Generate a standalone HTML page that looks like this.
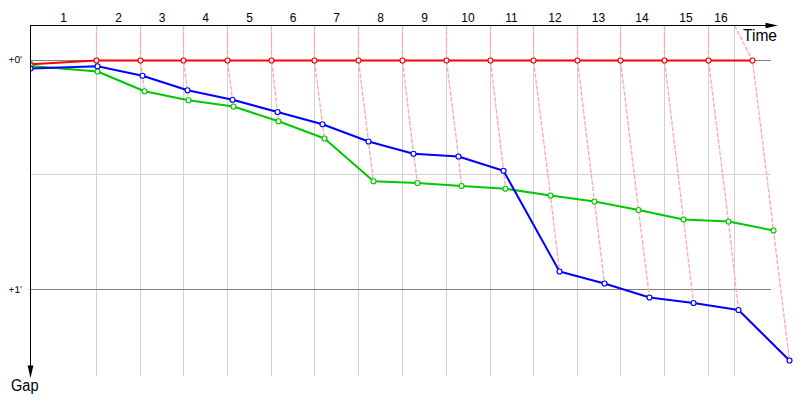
<!DOCTYPE html>
<html><head><meta charset="utf-8"><title>Gap chart</title>
<style>
html,body{margin:0;padding:0;background:#fff;}
body{width:800px;height:400px;overflow:hidden;font-family:"Liberation Sans",sans-serif;}
svg{display:block;}
text{font-family:"Liberation Sans",sans-serif;fill:#000;}
</style></head><body>
<svg width="800" height="400" viewBox="0 0 800 400">
<rect width="800" height="400" fill="#fff"/>

<g stroke="#d0d0d0" stroke-width="1" shape-rendering="crispEdges">
<line x1="96.5" y1="26" x2="96.5" y2="376"/>
<line x1="140.5" y1="26" x2="140.5" y2="376"/>
<line x1="183.5" y1="26" x2="183.5" y2="376"/>
<line x1="227.5" y1="26" x2="227.5" y2="376"/>
<line x1="271.5" y1="26" x2="271.5" y2="376"/>
<line x1="314.5" y1="26" x2="314.5" y2="376"/>
<line x1="358.5" y1="26" x2="358.5" y2="376"/>
<line x1="402.5" y1="26" x2="402.5" y2="376"/>
<line x1="446.5" y1="26" x2="446.5" y2="376"/>
<line x1="490.5" y1="26" x2="490.5" y2="376"/>
<line x1="533.5" y1="26" x2="533.5" y2="376"/>
<line x1="577.5" y1="26" x2="577.5" y2="376"/>
<line x1="620.5" y1="26" x2="620.5" y2="376"/>
<line x1="664.5" y1="26" x2="664.5" y2="376"/>
<line x1="708.5" y1="26" x2="708.5" y2="376"/>
<line x1="734.5" y1="26" x2="734.5" y2="376"/>
<line x1="31" y1="174.5" x2="771" y2="174.5"/>
</g>
<g stroke="#808080" stroke-width="1" shape-rendering="crispEdges">
<line x1="31" y1="60.5" x2="771" y2="60.5"/>
<line x1="31" y1="289.5" x2="771" y2="289.5"/>
</g>
<g stroke="#ffacac" stroke-width="1.4" fill="none" stroke-dasharray="4.5 1.5">
<polyline points="96.5,25.5 96.5,60.5 97.5,66.25 97.5,71.5"/>
<polyline points="140.5,25.5 140.5,60.5 142.5,75.75 144.5,91.25"/>
<polyline points="183.5,25.5 183.5,60.5 187.5,90.25 188.5,100.25"/>
<polyline points="227.5,25.5 227.5,60.5 232.5,99.75 233.5,106.5"/>
<polyline points="271.5,25.5 271.5,60.5 277.5,112 278.5,121.25"/>
<polyline points="314.5,25.5 314.5,60.5 322.5,124.25 324.5,138.5"/>
<polyline points="358.5,25.5 358.5,60.5 368.5,141.5 373.5,181.25"/>
<polyline points="402.5,25.5 402.5,60.5 413.5,153.75 417.5,183"/>
<polyline points="446.5,25.5 446.5,60.5 458.5,156.5 461.5,186"/>
<polyline points="490.5,25.5 490.5,60.5 503.5,170.75 505.5,188.75"/>
<polyline points="533.5,25.5 533.5,60.5 550.5,195.5 559.5,271.5"/>
<polyline points="577.5,25.5 577.5,60.5 594.5,201.5 604.5,283.5"/>
<polyline points="620.5,25.5 620.5,60.5 638.5,210 649.5,297.5"/>
<polyline points="664.5,25.5 664.5,60.5 683.5,219.5 693.5,303"/>
<polyline points="708.5,25.5 708.5,60.5 728.5,221.5 738.5,310"/>
<polyline points="734.5,25.5 752.5,60.5 773.5,230.5 789.5,360.5"/>
</g>
<g stroke="#000" stroke-width="1" shape-rendering="crispEdges">
<line x1="30" y1="25.5" x2="768" y2="25.5"/>
<line x1="30.5" y1="25" x2="30.5" y2="368"/>
</g>
<polygon points="778,25.5 765.5,22.7 765.5,28.3" fill="#000"/>
<polygon points="30.5,378 27.6,365.5 33.4,365.5" fill="#000"/>
<clipPath id="cp"><rect x="31" y="0" width="769" height="400"/></clipPath><g clip-path="url(#cp)">
<polyline points="30.5,65.9 97.5,71.5 144.5,91.25 188.5,100.25 233.5,106.5 278.5,121.25 324.5,138.5 373.5,181.25 417.5,183 461.5,186 505.5,188.75 550.5,195.5 594.5,201.5 638.5,210 683.5,219.5 728.5,221.5 773.5,230.5" fill="none" stroke="#00c800" stroke-width="2" stroke-linejoin="round"/>
<polyline points="30.5,68.5 97.5,66.25 142.5,75.75 187.5,90.25 232.5,99.75 277.5,112 322.5,124.25 368.5,141.5 413.5,153.75 458.5,156.5 503.5,170.75 559.5,271.5 604.5,283.5 649.5,297.5 693.5,303 738.5,310 789.5,360.5" fill="none" stroke="#0000ff" stroke-width="2" stroke-linejoin="round"/>
<polyline points="30.5,64.3 96.5,60.5 140.5,60.5 183.5,60.5 227.5,60.5 271.5,60.5 314.5,60.5 358.5,60.5 402.5,60.5 446.5,60.5 490.5,60.5 533.5,60.5 577.5,60.5 620.5,60.5 664.5,60.5 708.5,60.5 752.5,60.5" fill="none" stroke="#ff0000" stroke-width="2" stroke-linejoin="round"/>
<g fill="#fff" stroke="#ff0000" stroke-width="1.2">
<circle cx="30.5" cy="64.3" r="2.5"/>
<circle cx="96.5" cy="60.5" r="2.5"/>
<circle cx="140.5" cy="60.5" r="2.5"/>
<circle cx="183.5" cy="60.5" r="2.5"/>
<circle cx="227.5" cy="60.5" r="2.5"/>
<circle cx="271.5" cy="60.5" r="2.5"/>
<circle cx="314.5" cy="60.5" r="2.5"/>
<circle cx="358.5" cy="60.5" r="2.5"/>
<circle cx="402.5" cy="60.5" r="2.5"/>
<circle cx="446.5" cy="60.5" r="2.5"/>
<circle cx="490.5" cy="60.5" r="2.5"/>
<circle cx="533.5" cy="60.5" r="2.5"/>
<circle cx="577.5" cy="60.5" r="2.5"/>
<circle cx="620.5" cy="60.5" r="2.5"/>
<circle cx="664.5" cy="60.5" r="2.5"/>
<circle cx="708.5" cy="60.5" r="2.5"/>
<circle cx="752.5" cy="60.5" r="2.5"/>
</g>
<g fill="#fff" stroke="#00c800" stroke-width="1.2">
<circle cx="30.5" cy="65.9" r="2.5"/>
<circle cx="97.5" cy="71.5" r="2.5"/>
<circle cx="144.5" cy="91.25" r="2.5"/>
<circle cx="188.5" cy="100.25" r="2.5"/>
<circle cx="233.5" cy="106.5" r="2.5"/>
<circle cx="278.5" cy="121.25" r="2.5"/>
<circle cx="324.5" cy="138.5" r="2.5"/>
<circle cx="373.5" cy="181.25" r="2.5"/>
<circle cx="417.5" cy="183" r="2.5"/>
<circle cx="461.5" cy="186" r="2.5"/>
<circle cx="505.5" cy="188.75" r="2.5"/>
<circle cx="550.5" cy="195.5" r="2.5"/>
<circle cx="594.5" cy="201.5" r="2.5"/>
<circle cx="638.5" cy="210" r="2.5"/>
<circle cx="683.5" cy="219.5" r="2.5"/>
<circle cx="728.5" cy="221.5" r="2.5"/>
<circle cx="773.5" cy="230.5" r="2.5"/>
</g>
<g fill="#fff" stroke="#0000ff" stroke-width="1.2">
<circle cx="30.5" cy="68.5" r="2.5"/>
<circle cx="97.5" cy="66.25" r="2.5"/>
<circle cx="142.5" cy="75.75" r="2.5"/>
<circle cx="187.5" cy="90.25" r="2.5"/>
<circle cx="232.5" cy="99.75" r="2.5"/>
<circle cx="277.5" cy="112" r="2.5"/>
<circle cx="322.5" cy="124.25" r="2.5"/>
<circle cx="368.5" cy="141.5" r="2.5"/>
<circle cx="413.5" cy="153.75" r="2.5"/>
<circle cx="458.5" cy="156.5" r="2.5"/>
<circle cx="503.5" cy="170.75" r="2.5"/>
<circle cx="559.5" cy="271.5" r="2.5"/>
<circle cx="604.5" cy="283.5" r="2.5"/>
<circle cx="649.5" cy="297.5" r="2.5"/>
<circle cx="693.5" cy="303" r="2.5"/>
<circle cx="738.5" cy="310" r="2.5"/>
<circle cx="789.5" cy="360.5" r="2.5"/>
</g>
</g>
<g font-size="12" text-anchor="middle">
<text x="63.5" y="22">1</text>
<text x="118.5" y="22">2</text>
<text x="162.0" y="22">3</text>
<text x="205.5" y="22">4</text>
<text x="249.5" y="22">5</text>
<text x="293.0" y="22">6</text>
<text x="336.5" y="22">7</text>
<text x="380.5" y="22">8</text>
<text x="424.5" y="22">9</text>
<text x="468.0" y="22">10</text>
<text x="511.5" y="22">11</text>
<text x="555.0" y="22">12</text>
<text x="598.5" y="22">13</text>
<text x="642.0" y="22">14</text>
<text x="686.0" y="22">15</text>
<text x="721.0" y="22">16</text>
</g>
<text x="743" y="40.5" font-size="16" textLength="34" lengthAdjust="spacingAndGlyphs">Time</text>
<text x="11" y="390.5" font-size="16" textLength="27.5" lengthAdjust="spacingAndGlyphs">Gap</text>
<text x="8.4" y="63" font-size="9.9" textLength="13.7" text-rendering="geometricPrecision" lengthAdjust="spacingAndGlyphs">+0'</text>
<text x="8.4" y="292.8" font-size="9.9" textLength="13.7" text-rendering="geometricPrecision" lengthAdjust="spacingAndGlyphs">+1'</text>
</svg></body></html>
